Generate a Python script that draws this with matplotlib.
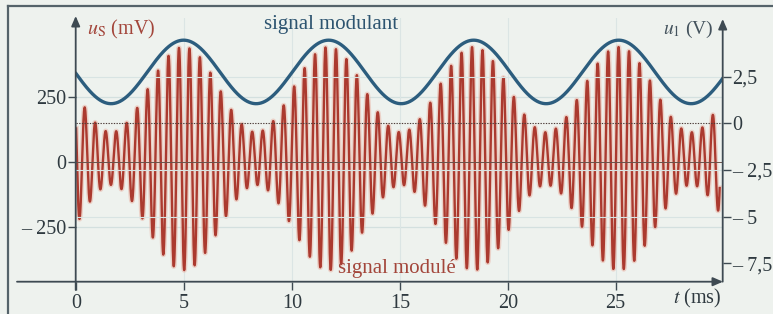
import numpy as np
import matplotlib
matplotlib.use("Agg")
import matplotlib.pyplot as plt
from matplotlib.lines import Line2D

# ---------------- data ----------------
# modulating signal u1(t) (V): offset, amplitude, period (ms), time of first maximum (ms)
u1_offset = 2.75
u1_amplitude = 1.70
mod_period_ms = 6.72
mod_peak_ms = 4.98
# modulated signal uS(t) (mV) = offset + gain * u1(t) * carrier
us_gain_mV_per_V = 96.4
us_offset_mV = 12.0
carrier_period_ms = 0.485
carrier_peak_ms = 0.40
t_start_ms = 0.0
t_end_us_ms = 29.82
t_end_u1_ms = 29.96

x_ticks = [0, 5, 10, 15, 20, 25]
x_tick_labels = ["0", "5", "10", "15", "20", "25"]
left_ticks = [250, 0, -250]
left_tick_labels = ["250", "0", "– 250"]
right_ticks = [2.5, 0, -2.5, -5, -7.5]
right_tick_labels = ["2,5", "0", "– 2,5", "– 5", "– 7,5"]

# ---------------- styling ----------------
W, H = 773, 314
BG = "#eef2ee"
RED = "#ab3a2f"
RED_HALO = "#eab6a8"
BLUE = "#2c5d7e"
AXC = "#3e4a52"
TXT = "#2f3a40"
plt.rcParams["font.family"] = ["Liberation Serif", "DejaVu Serif"]
plt.rcParams["mathtext.fontset"] = "stix"

fig = plt.figure(figsize=(W / 100, H / 100), dpi=100, facecolor=BG)

def fx(px):
    return px / W

def fy(py):
    return 1 - py / H

ax_l, ax_r, ax_b, ax_t = 75.7, 722.7, 281.7, 18.0
ax = fig.add_axes([fx(ax_l), fy(ax_b), fx(ax_r) - fx(ax_l), fy(ax_t) - fy(ax_b)])
ax.set_facecolor(BG)
ax.set_xlim(-0.02, 29.96)
ax.set_ylim(-461.5, 552.7)
ax2 = ax.twinx()
ax2.set_ylim(-8.48, 5.637)

for a in (ax, ax2):
    for s in a.spines.values():
        s.set_visible(False)

# faint grid
for v in [250, -250]:
    ax.axhline(v, color="#d3e0df", lw=0.9, zorder=0)
for v in [2.5, -2.5, -5]:
    ax2.axhline(v, color="#d8e4e3", lw=0.8, zorder=0)
for v in x_ticks[1:]:
    ax.axvline(v, color="#dbe5e4", lw=0.8, zorder=0)

# curves
t_us = np.linspace(t_start_ms, t_end_us_ms, 8000)
t_u1 = np.linspace(t_start_ms, t_end_u1_ms, 2000)
u1_for_us = u1_offset + u1_amplitude * np.cos(2 * np.pi * (t_us - mod_peak_ms) / mod_period_ms)
carrier = np.cos(2 * np.pi * (t_us - carrier_peak_ms) / carrier_period_ms)
us = us_offset_mV + us_gain_mV_per_V * u1_for_us * carrier
u1 = u1_offset + u1_amplitude * np.cos(2 * np.pi * (t_u1 - mod_peak_ms) / mod_period_ms)

ax.plot(t_us, us, color=RED_HALO, lw=3.8, alpha=0.55, zorder=2)
ax.plot(t_us, us, color=RED, lw=1.7, zorder=3)
ax.axhline(0, color="#6b524a", lw=0.7, zorder=4)
ax2.plot(t_u1, u1, color=BLUE, lw=2.4, zorder=5)
ax2.axhline(0, color="#4d3c38", lw=0.8, ls=(0, (1.2, 1.2)), zorder=4)

# ticks
ax.set_xticks(x_ticks)
ax.set_xticklabels(x_tick_labels)
ax.set_yticks(left_ticks)
ax.set_yticklabels(left_tick_labels)
ax2.set_yticks(right_ticks)
ax2.set_yticklabels(right_tick_labels)
ax.tick_params(axis="x", direction="out", length=6, width=1.0, color=AXC,
               labelsize=14.5, labelcolor=TXT, pad=3)
ax.tick_params(axis="y", direction="out", length=6, width=1.0, color=AXC,
               labelsize=14.5, labelcolor=TXT, pad=1)
ax2.tick_params(axis="y", direction="out", length=6, width=1.0, color=AXC,
                labelsize=14.5, labelcolor=TXT, pad=1)

# axis lines with arrows (figure pixels)
def arrow(x0, y0, x1, y1):
    fig.add_artist(matplotlib.patches.FancyArrowPatch(
        (fx(x0), fy(y0)), (fx(x1), fy(y1)), transform=fig.transFigure,
        arrowstyle="-|>,head_length=6,head_width=2.6", color=AXC, lw=1.3,
        shrinkA=0, shrinkB=0, mutation_scale=1, zorder=10))

arrow(17, ax_b, 723, ax_b)          # time axis
arrow(ax_l, 290, ax_l, 16)          # left axis
arrow(ax_r, ax_b, ax_r, 19)         # right axis

# outer frame
fig.add_artist(Line2D([fx(8), fx(8)], [fy(6), 0], transform=fig.transFigure, color="#55636a", lw=1.6))
fig.add_artist(Line2D([fx(8), 1], [fy(6), fy(6)], transform=fig.transFigure, color="#55636a", lw=1.6))

# texts
fig.text(fx(87), fy(29), r"$u_\mathrm{S}$ (mV)", color="#a3463b", fontsize=14.5, ha="left", va="center")
fig.text(fx(714), fy(29), r"$u_1$ (V)", color="#44535d", fontsize=14, ha="right", va="center")
fig.text(fx(331), fy(25), "signal modulant", color="#2d5470", fontsize=15, ha="center", va="center")
fig.text(fx(397), fy(268), "signal modulé", color="#a3463b", fontsize=15, ha="center", va="center")
fig.text(fx(697), fy(298), r"$t$ (ms)", color=TXT, fontsize=14.5, ha="center", va="center")

fig.savefig("out.png", dpi=100, facecolor=BG)
